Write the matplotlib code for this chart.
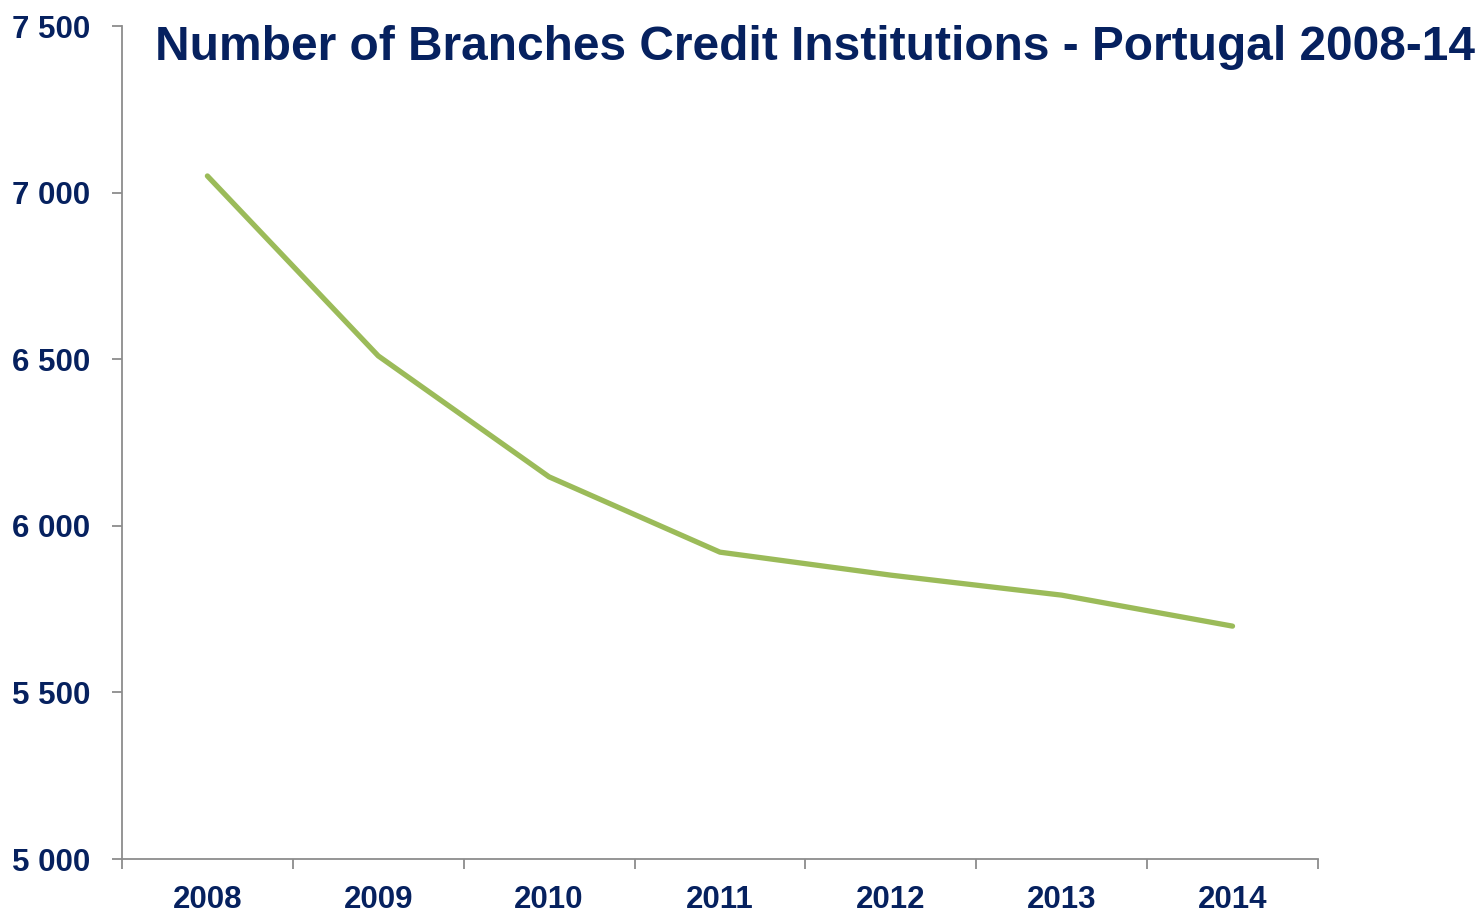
import matplotlib.pyplot as plt
from matplotlib.ticker import FuncFormatter, FixedLocator
import numpy as np

years = ['2008', '2009', '2010', '2011', '2012', '2013', '2014']
branches = [7050, 6510, 6147, 5921, 5852, 5792, 5699]

navy = '#06215f'
green = '#9bbb59'
grey = '#8c8c8c'

plt.rcParams['font.family'] = ['Liberation Sans', 'DejaVu Sans']

fig = plt.figure(figsize=(14.82, 9.13), dpi=100)
ax = fig.add_axes([0.0823, 0.0591, 0.8070, 0.9124])

x = np.arange(len(years))
ax.plot(x, branches, color=green, linewidth=3.8, solid_capstyle='round', solid_joinstyle='round')

ax.set_xlim(-0.5, len(years) - 0.5)
ax.set_ylim(5000, 7500)

ax.set_yticks([5000, 5500, 6000, 6500, 7000, 7500])
ax.yaxis.set_major_formatter(FuncFormatter(lambda v, p: f'{int(v):,}'.replace(',', ' ')))

ax.set_xticks(x)
ax.set_xticklabels(years)
ax.xaxis.set_minor_locator(FixedLocator(np.arange(-0.5, len(years), 1.0)))
ax.tick_params(axis='x', which='major', length=0, pad=19)
ax.tick_params(axis='x', which='minor', length=7, width=1.3, color=grey, direction='out')
ax.tick_params(axis='y', length=7, width=1.3, color=grey, direction='out', pad=16)

for lab in ax.get_xticklabels() + ax.get_yticklabels():
    lab.set_fontsize(22.5)
    lab.set_fontweight('bold')
    lab.set_color(navy)

for s in ['top', 'right']:
    ax.spines[s].set_visible(False)
for s in ['left', 'bottom']:
    ax.spines[s].set_color(grey)
    ax.spines[s].set_linewidth(1.3)

fig.text(0.1045, 0.948, 'Number of Branches Credit Institutions - Portugal 2008-14',
         fontsize=34.5, fontweight='bold', color=navy, ha='left', va='center')

fig.savefig('out.png', dpi=100)
